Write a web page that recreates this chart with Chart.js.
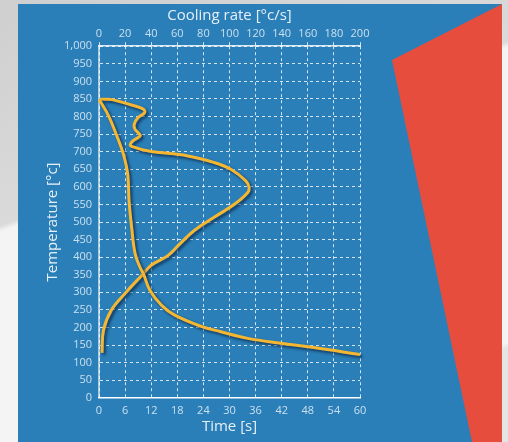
<!DOCTYPE html>
<html>

<head>
  <script src="https://cdn.jsdelivr.net/npm/chart.js@4.4.0/dist/chart.umd.min.js"></script>
  <style>
    html, body { margin: 0; padding: 0; }
    body {
      width: 508px; height: 442px; position: relative; overflow: hidden;
      background: linear-gradient(160deg, #cfcfcf 0%, #dadada 36%, #f4f4f4 37%, #f4f4f4 84%, #e4e4e4 85%);
    }
    #panel { position: absolute; left: 18px; top: 4px; width: 484px; height: 438px; background: #2a7fb8; }
    #red { position: absolute; left: 0; top: 0; width: 508px; height: 442px; background: #e64d3d;
      clip-path: polygon(392px 60px, 502px 4px, 502px 442px, 472px 442px); }
    #wrap { position: absolute; left: 0; top: 0; width: 508px; height: 442px; }
  </style>
</head>

<body>
  <div id="panel"></div>
  <div id="red"></div>
  <div id="wrap"><canvas id="myChart" width="508" height="442"></canvas></div>

  <script type="text/javascript">
    // cooling curve: time [s] vs temperature
    var timeS    = [0, 2.2, 4.1, 5.6, 6.6, 6.9, 7.5, 8.3, 9.4, 10.2, 11.7, 14.4, 17.4, 23.5, 28, 34.2, 41.8, 49.4, 60];
    var timeTemp = [849, 802, 745, 693, 636, 561, 485, 410, 372, 353, 306, 263, 235, 203, 188, 169, 155, 143, 123];

    // cooling rate [°c/s] vs temperature
    var rate     = [2.3, 3.5, 9.4, 20, 34, 40, 53, 62, 73, 88.5, 104, 114, 115, 112.5, 101, 88.5, 68, 38, 25, 24, 26, 31.5, 30, 27.5, 27, 30, 35, 34, 27.5, 12.4, 7.4, 1];
    var rateTemp = [128, 193, 249, 297, 353, 377, 405, 438, 476, 514, 551, 584, 598, 617, 650, 669, 688, 702, 715, 721, 731, 745, 754, 764, 778, 797, 811, 821, 830, 846, 849, 849];

    var timeTicks = [0, 6, 12, 18, 24, 30, 36, 42, 48, 54, 60];
    var rateTicks = [0, 20, 40, 60, 80, 100, 120, 140, 160, 180, 200];

    var pts = function(xs, ys) {
      return xs.map(function(v, i) { return {x: v, y: ys[i]}; });
    };

    var lineColor = '#f5b731';
    var tickColor = 'rgba(220,234,245,0.9)';
    var titleColor = '#e6eff7';
    var gridColor = 'rgba(255,255,255,0.8)';

    // dark drop shadow under the curves
    var shadowPlugin = {
      id: 'lineShadow',
      beforeDatasetsDraw: function(chart) {
        var c = chart.ctx;
        c.save();
        c.shadowColor = 'rgba(10,35,70,0.8)';
        c.shadowBlur = 3;
        c.shadowOffsetX = 2;
        c.shadowOffsetY = 2;
      },
      afterDatasetsDraw: function(chart) {
        chart.ctx.restore();
      }
    };

    var ctx = document.getElementById('myChart').getContext('2d');
    var chart = new Chart(ctx, {
      type: 'scatter',
      data: {
        datasets: [{
          label: 'Time',
          data: pts(timeS, timeTemp),
          xAxisID: 'x',
          borderColor: lineColor,
          borderWidth: 3,
          showLine: true,
          pointRadius: 0,
          tension: 0.4,
          clip: false
        }, {
          label: 'Cooling rate',
          data: pts(rate, rateTemp),
          xAxisID: 'x2',
          borderColor: lineColor,
          borderWidth: 3,
          showLine: true,
          pointRadius: 0,
          tension: 0.4,
          clip: false
        }]
      },
      options: {
        responsive: false,
        animation: false,
        layout: { padding: { top: 5, left: 40, right: 148, bottom: 6 } },
        plugins: { legend: { display: false }, tooltip: { enabled: false } },
        scales: {
          x: {
            type: 'linear', position: 'bottom', min: 0, max: 60,
            afterBuildTicks: function(s) { s.ticks = timeTicks.map(function(v) { return {value: v}; }); },
            grid: { color: gridColor, lineWidth: 1, drawTicks: false },
            border: { display: true, color: '#ffffff', width: 1.5, dash: [3, 3] },
            ticks: { color: tickColor, padding: 6, font: { family: 'Open Sans', size: 11 } },
            title: { display: true, text: 'Time [s]', color: titleColor, padding: { top: -5, bottom: 0 },
              font: { family: 'Open Sans', size: 15 } }
          },
          x2: {
            type: 'linear', position: 'top', min: 0, max: 200,
            afterBuildTicks: function(s) { s.ticks = rateTicks.map(function(v) { return {value: v}; }); },
            grid: { color: gridColor, lineWidth: 1, drawOnChartArea: false, drawTicks: true, tickLength: 4 },
            border: { display: true, color: 'rgba(255,255,255,0.85)', width: 1.5, dash: [3, 3] },
            ticks: { color: tickColor, padding: 2, font: { family: 'Open Sans', size: 11 } },
            title: { display: true, text: 'Cooling rate [°c/s]', color: titleColor, padding: { top: 2, bottom: 0 },
              font: { family: 'Open Sans', size: 15 } }
          },
          y: {
            type: 'linear', min: 0, max: 1000,
            ticks: { stepSize: 50, color: tickColor, padding: 7, font: { family: 'Open Sans', size: 11 } },
            grid: { color: gridColor, lineWidth: 1, drawTicks: false },
            border: { display: true, color: 'rgba(255,255,255,0.6)', width: 2, dash: [3, 3] },
            title: { display: true, text: 'Temperature [°c]', color: titleColor, padding: { top: 4, bottom: -5 },
              font: { family: 'Open Sans', size: 15 } }
          }
        }
      },
      plugins: [shadowPlugin]
    });
  </script>
</body>

</html>
